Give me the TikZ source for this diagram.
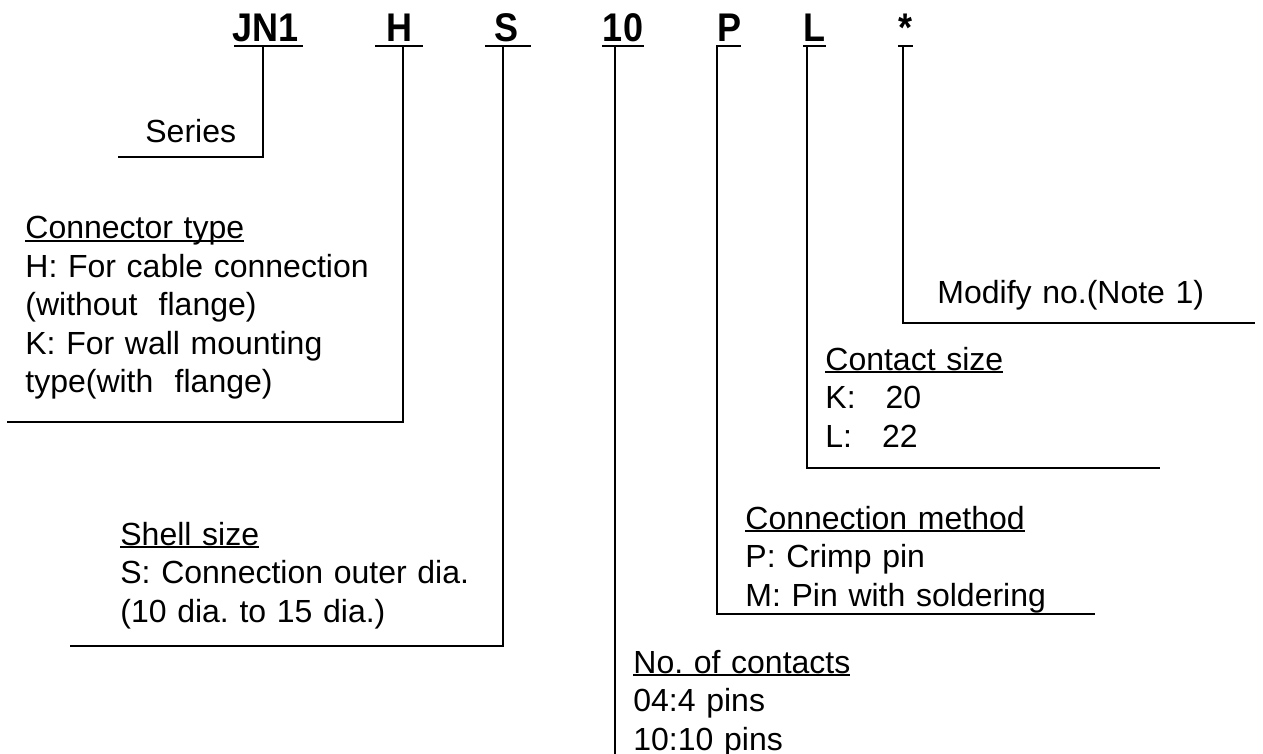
\documentclass[tikz,border=0pt]{standalone}
\usepackage{fontspec}
\setmainfont{Liberation Sans}
\newfontfamily\codefont[FakeStretch=0.9]{Liberation Sans}
\newcommand\uln[1]{\setbox0\hbox{#1}\rlap{\rule[-1.6pt]{\wd0}{0.9pt}}\box0}
\frenchspacing
\tikzset{
  code/.style={font=\codefont\bfseries\fontsize{20pt}{20pt}\selectfont, anchor=base, inner sep=0pt},
  note/.style={font=\fontsize{16pt}{19.25pt}\selectfont, anchor=base west, inner sep=0pt, text width=220pt, align=left},
  uline/.style={line width=1.4pt},
  lead/.style={line width=1pt}
}
\begin{document}
\begin{tikzpicture}[x=0.5pt,y=-0.5pt]
    \useasboundingbox (0,0) rectangle (1263,754);
    % part number
    \node[code] (jn1) at (265.5,42) {JN1};
    \node[code] (h) at (399,42) {H};
    \node[code] (s) at (506.5,42) {S};
    \node[code] (num) at (623,42) {10};
    \node[code] (p) at (729,42) {P};
    \node[code] (l) at (814,42) {L};
    \node[code] (mod) at (905,42) {*};
    \foreach \a/\b in {234/303, 375/423, 485/531, 602/644, 716/741, 803/826, 898/913}
        \draw[uline] (\a,46) -- (\b,46);
    % notes
    \node[note] (series) at (145,143) {Series};
    \node[note] (ctype) at (25,239) {\uln{Connector type}\\H: For cable connection\\(without\ \ flange)\\K: For wall mounting\\type(with\ \ flange)};
    \node[note] (shell) at (120,545) {\uln{Shell size}\\S: Connection outer dia.\\(10 dia. to 15 dia.)};
    \node[note] (contacts) at (633,673) {\uln{No. of contacts}\\04:4 pins\\10:10 pins};
    \node[note] (method) at (745,529) {\uln{Connection method}\\P: Crimp pin\\M: Pin with soldering};
    \node[note] (csize) at (825,370) {\uln{Contact size}\\K:\hspace{15pt}20\\L:\hspace{15pt}22};
    \node[note] (modify) at (937,303) {Modify no.(Note 1)};
    % leads
    \coordinate (jn1t) at (263,46);
    \coordinate (ht) at (403,46);
    \coordinate (st) at (503,46);
    \coordinate (numt) at (615,46);
    \coordinate (pt) at (717,46);
    \coordinate (lt) at (807,46);
    \coordinate (modt) at (903,46);
    \coordinate (seriesend) at (118,157);
    \coordinate (ctypeend) at (7,422);
    \coordinate (shellend) at (70,646);
    \coordinate (numend) at (615,754);
    \coordinate (methodend) at (1095,614);
    \coordinate (csizeend) at (1160,468);
    \coordinate (modend) at (1255,323);
    \draw[lead] (jn1t) |- (seriesend);
    \draw[lead] (ht) |- (ctypeend);
    \draw[lead] (st) |- (shellend);
    \draw[lead] (numt) -- (numend);
    \draw[lead] (pt) |- (methodend);
    \draw[lead] (lt) |- (csizeend);
    \draw[lead] (modt) |- (modend);
\end{tikzpicture}
\end{document}
